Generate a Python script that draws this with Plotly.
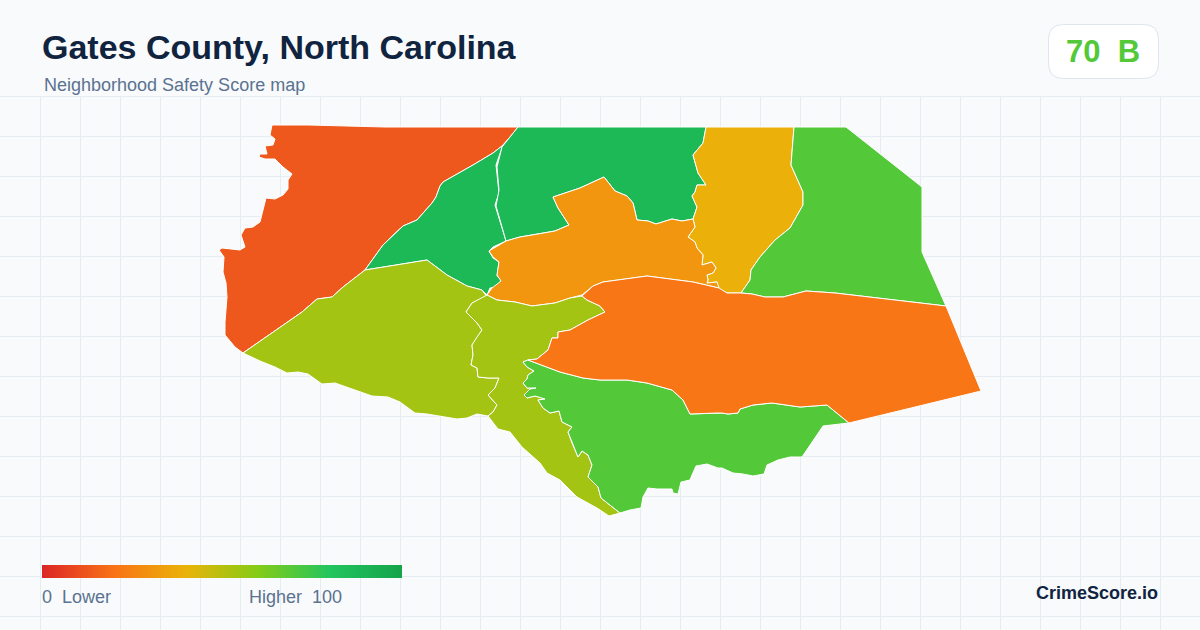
import numpy as np
import plotly.graph_objects as go
from plotly.colors import sample_colorscale

TITLE = "Gates County, North Carolina"
SUBTITLE = "Neighborhood Safety Score map"
OVERALL_SCORE = 70
OVERALL_GRADE = "B"
BRAND = "CrimeScore.io"

score_stops = [0, 20, 40, 60, 80, 100]
score_colors = ["#dc2626", "#f97316", "#eab308", "#84cc16", "#22c55e", "#16a34a"]

# Tract outlines in map units, with their scores
nw_x = [272,309,385,518,510,502,493,473,443,440,436,432,417,403,392,383,365,357,343,332,317,302,243,235,225,225,226,227,226,223,224,219,222,240,245,241,245,253,260,263,266,275,283,288,288,292,283,275,265,259,260,267,265,273,275,270]
nw_y = [125,125,127,127,137,146,153,165,182,186,197,203,220,226,236,245,270,276,287,297,299,312,353,347,335,322,308,297,283,272,257,250,248,250,247,235,228,227,222,210,198,199,195,189,180,174,167,159,159,157,154,154,146,145,139,135]
nw_score = 13

wc_x = [502,493,473,443,440,436,432,417,403,392,383,365,427,447,467,482,487,490,496,502,497,499,493,489,493,506,495,499,496,503]
wc_y = [146,153,165,182,186,197,203,220,226,236,245,270,260,275,286,290,295,288,287,281,276,262,258,251,247,241,205,193,165,145]
wc_score = 87

nc_x = [518,706,703,693,698,706,697,695,692,697,693,682,672,656,648,637,633,627,615,604,580,553,558,569,555,538,520,506,496,499,497,502]
nc_y = [127,127,143,155,173,185,185,192,196,207,219,221,219,224,221,220,203,196,191,177,188,197,208,225,231,234,237,241,206,190,167,147]
nc_score = 87

md_x = [506,520,538,555,569,558,553,580,604,615,627,633,637,648,656,672,682,693,695,688,695,697,703,702,712,716,713,707,708,707,717,719,693,647,603,593,582,570,555,532,515,497,487,492,501,497,499,493,489,500]
md_y = [241,237,234,231,225,208,197,188,177,191,196,203,220,221,224,219,221,219,227,237,242,248,255,265,262,268,273,275,280,283,282,288,282,276,282,286,295,298,303,306,302,300,295,288,281,275,262,257,251,245]
md_score = 31

ne_x = [706,794,791,803,803,790,775,760,751,750,741,727,718,717,707,708,707,713,716,712,702,703,697,695,688,695,693,697,692,695,697,706,698,693,703]
ne_y = [127,127,165,192,205,228,240,257,270,280,293,293,288,282,283,280,275,273,268,262,265,255,248,242,237,227,219,207,196,192,185,185,173,155,143]
ne_score = 39

fe_x = [794,846,922,922,946,835,806,783,765,752,741,750,751,760,775,790,803,803,791]
fe_y = [127,127,187,252,306,293,291,297,297,294,293,280,270,257,240,228,205,192,165]
fe_score = 70

ce_x = [946,981,849,827,800,772,753,740,738,728,722,717,690,683,672,647,627,600,583,560,528,537,548,552,558,558,570,588,605,600,587,582,593,603,647,693,719,727,741,752,765,783,806,835]
ce_y = [306,391,423,405,407,403,405,409,413,414,413,413,414,400,390,383,380,380,378,372,360,359,350,338,338,332,330,320,312,306,300,296,286,282,276,282,288,293,293,294,297,297,291,293]
ce_score = 21

se_x = [528,560,583,600,627,647,672,683,690,717,722,728,738,740,753,772,800,827,849,840,823,802,790,778,767,764,753,743,733,722,718,707,696,692,690,681,678,673,672,657,648,643,641,630,620,601,598,588,592,588,582,578,572,568,572,562,559,550,543,538,545,535,527,524,530,536,527,523,527,528,534,527,523]
se_y = [360,372,378,380,380,383,390,400,414,413,413,414,413,409,405,403,407,405,423,424,426,457,457,460,465,474,476,474,473,468,468,464,466,475,480,482,494,493,489,489,488,497,508,510,513,498,487,477,465,455,451,457,443,432,427,422,411,413,408,400,399,396,398,395,389,388,388,383,379,375,371,367,362]
se_score = 70

sw_x = [243,302,317,332,343,357,365,427,447,467,482,487,472,466,477,482,477,472,473,471,477,478,488,499,495,488,497,493,488,477,467,457,427,415,400,388,372,353,335,322,308,298,287,275,260]
sw_y = [353,312,299,297,287,276,270,260,275,286,290,297,303,312,323,330,337,345,355,365,368,377,378,378,388,395,405,412,416,414,418,419,414,413,402,397,396,389,383,384,374,372,373,367,361]
sw_score = 54

cs_x = [487,497,515,532,555,570,582,587,600,605,588,570,558,558,552,548,537,528,523,527,534,528,527,523,527,536,530,524,527,535,545,538,543,550,559,562,572,568,572,578,582,588,592,588,598,601,620,609,597,577,560,547,540,522,510,498,488,493,497,488,495,499,488,478,477,471,473,472,477,482,477,466,472]
cs_y = [295,300,302,306,303,298,296,300,306,312,320,330,332,338,338,350,359,360,362,367,371,375,379,383,388,388,389,395,398,396,399,400,408,413,411,422,427,432,443,457,451,455,465,477,487,498,513,516,508,497,480,473,463,447,432,429,416,412,405,395,388,378,378,377,368,365,355,345,337,330,323,312,303]
cs_score = 54

tracts = [
    (nw_x, nw_y, nw_score), (wc_x, wc_y, wc_score), (nc_x, nc_y, nc_score),
    (ne_x, ne_y, ne_score), (fe_x, fe_y, fe_score), (md_x, md_y, md_score),
    (sw_x, sw_y, sw_score), (cs_x, cs_y, cs_score), (se_x, se_y, se_score),
    (ce_x, ce_y, ce_score),
]

BG = "#f8fafc"
GRID = "#e6edf2"
INK = "#10243f"
MUTED = "#5b7290"
GREEN = "#53c93a"
FONT = "Liberation Sans"

colorscale = [[s / 100, c] for s, c in zip(score_stops, score_colors)]

fig = go.Figure()
for xs, ys, score in tracts:
    fig.add_trace(go.Scatter(
        x=xs + xs[:1], y=ys + ys[:1], mode="lines", fill="toself",
        fillcolor=sample_colorscale(colorscale, score / 100)[0],
        line=dict(color="#ffffff", width=1), hoverinfo="skip", showlegend=False,
    ))

# Legend gradient
bar_left, bar_right = 42, 402
legend_scores = np.linspace(0, 100, bar_right - bar_left)
fig.add_trace(go.Heatmap(
    z=[legend_scores.tolist()], x0=bar_left + 0.5, dx=1, y0=571.5, dy=13,
    zmin=0, zmax=100, colorscale=colorscale, showscale=False, hoverinfo="skip",
))

def note(text, x, y, size, color, anchor="left", bold=False):
    shift = {"left": -2, "right": 2, "center": 0}[anchor]
    fig.add_annotation(
        x=x, y=y, text=f"<b>{text}</b>" if bold else text, showarrow=False,
        xanchor=anchor, yanchor="middle", xshift=shift, yshift=0,
        font=dict(family=FONT, size=size, color=color),
    )

note(TITLE, 42, 47, 34, INK, bold=True)
note(SUBTITLE, 44, 85, 18, MUTED)
note(f"{OVERALL_SCORE}  {OVERALL_GRADE}", 1103, 51, 31, GREEN, "center", True)
note("0  Lower", 42, 597, 18, MUTED)
note("Higher  100", 342, 597, 18, MUTED, "right")
note(BRAND, 1158, 593, 18, INK, "right", True)

fig.update_layout(
    width=1200, height=630, margin=dict(l=0, r=0, t=0, b=0),
    paper_bgcolor=BG, plot_bgcolor=BG, showlegend=False,
    xaxis=dict(range=[0, 1200], visible=True, showticklabels=False, ticks="", zeroline=False,
               showgrid=True, gridcolor=GRID, gridwidth=1, tick0=0.5, dtick=40, fixedrange=True, showline=False),
    yaxis=dict(range=[630, 0], visible=True, showticklabels=False, ticks="", zeroline=False,
               showgrid=True, gridcolor=GRID, gridwidth=1, tick0=16.5, dtick=40, fixedrange=True, showline=False),
    shapes=[
        dict(type="rect", x0=0, x1=1200, y0=0, y1=96, fillcolor=BG, line_width=0, layer="between"),
        dict(type="path",
             path="M 1063.5 24.5 L 1143.5 24.5 Q 1158.5 24.5 1158.5 39.5 L 1158.5 63.5 Q 1158.5 78.5 1143.5 78.5 "
                  "L 1063.5 78.5 Q 1048.5 78.5 1048.5 63.5 L 1048.5 39.5 Q 1048.5 24.5 1063.5 24.5 Z",
             fillcolor="#ffffff", line=dict(color="#dfe5ee", width=1), layer="between"),
    ],
)

fig.write_html("out.html", config={"displayModeBar": False},
               post_script="document.body.style.margin='0';")
